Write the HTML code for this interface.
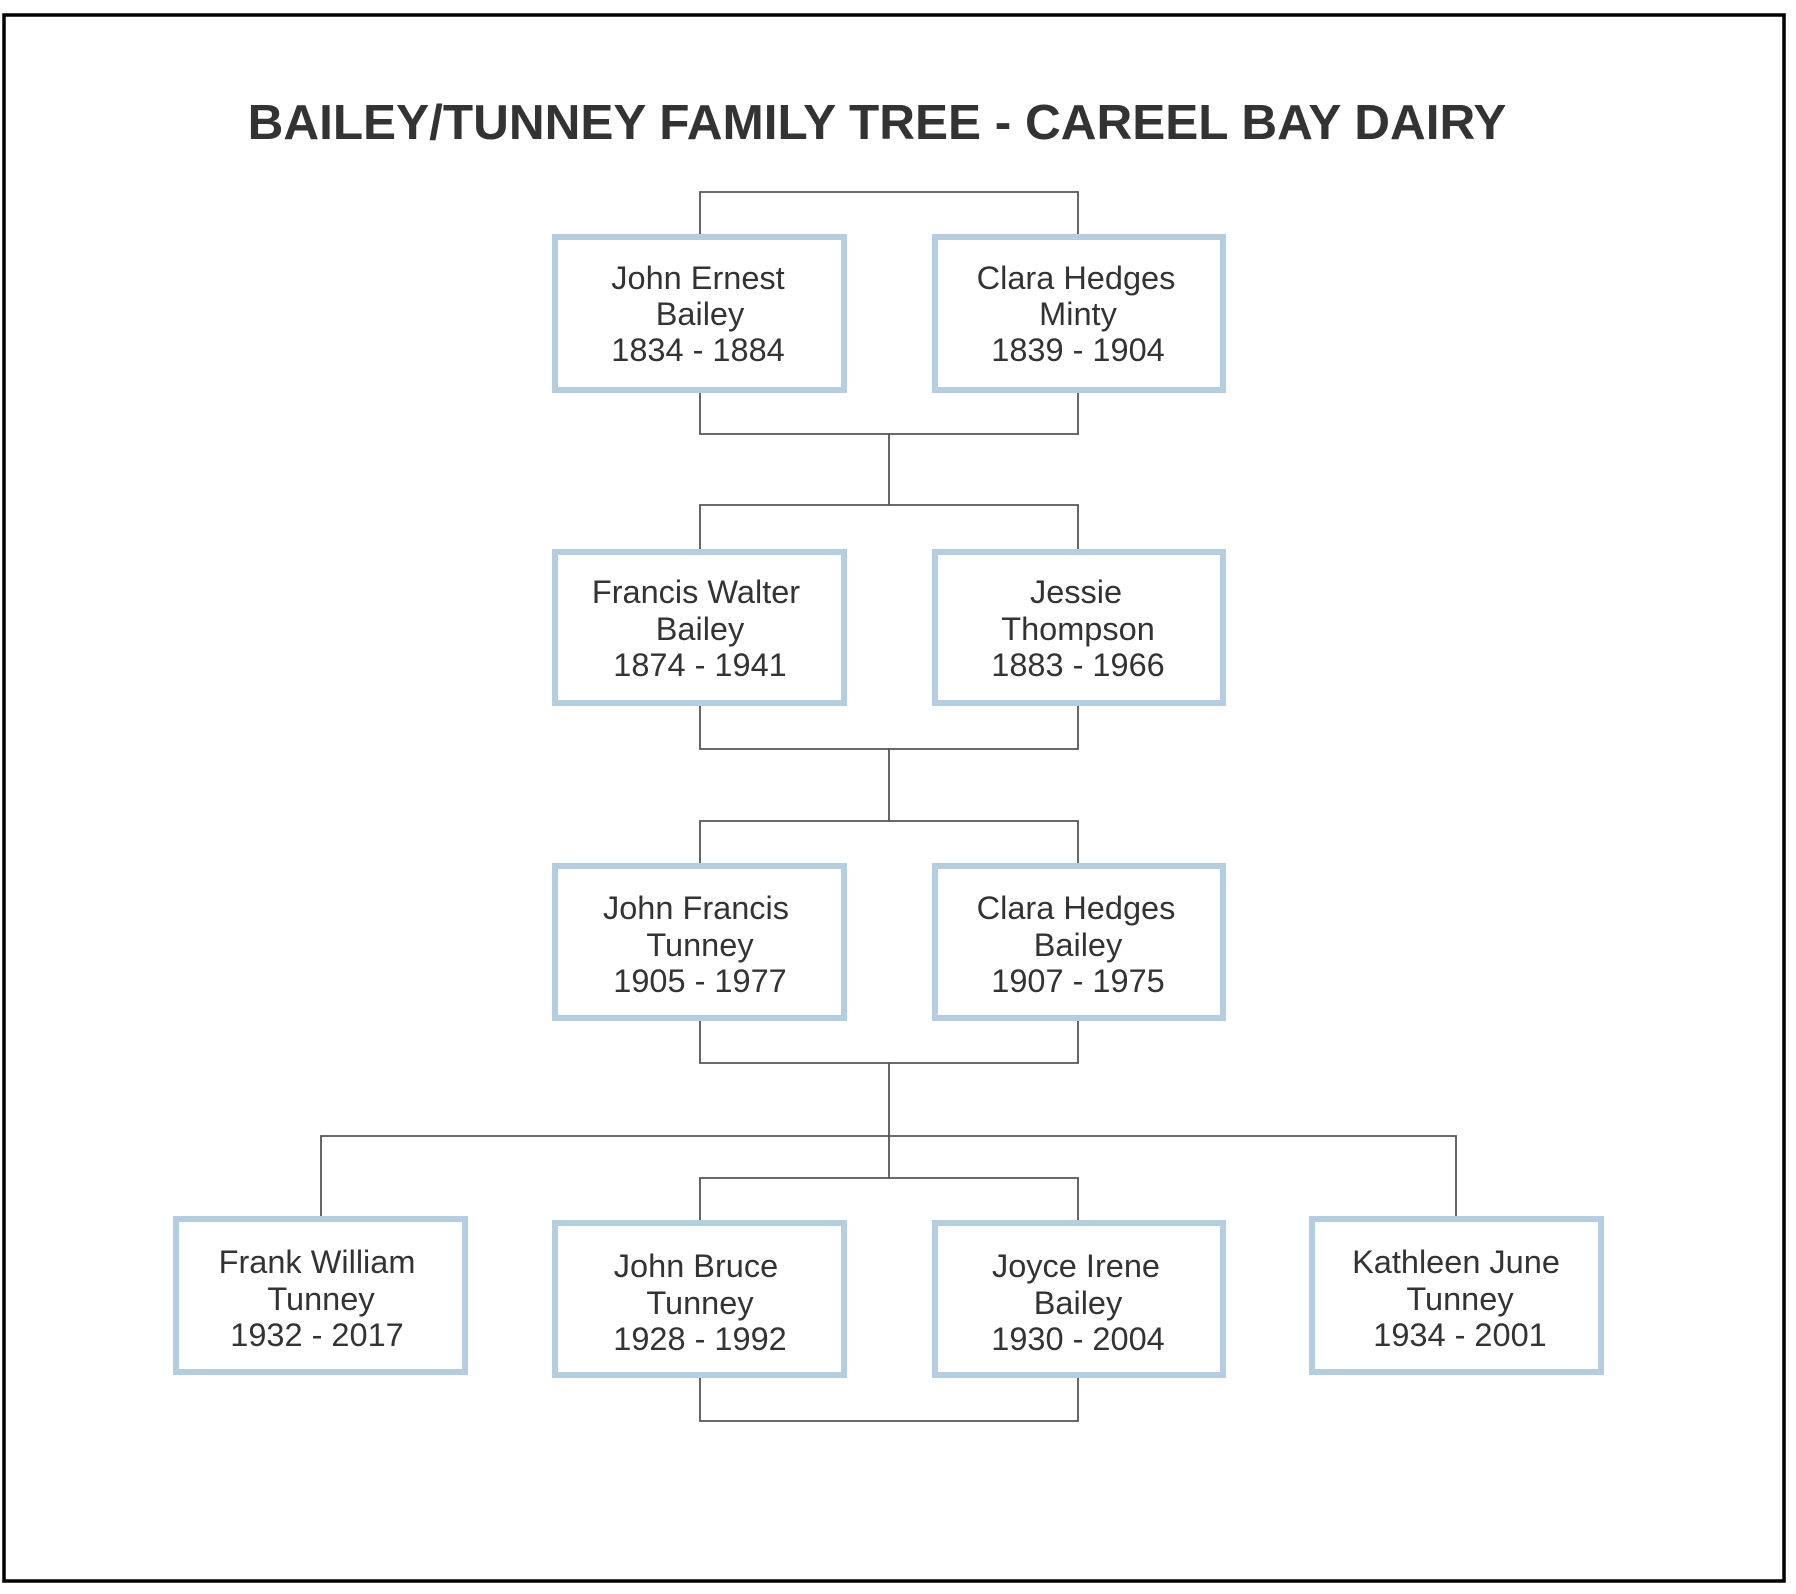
<!DOCTYPE html>
<html><head><style>html,body{margin:0;padding:0;background:#fff;}svg{display:block}</style></head>
<body>
<svg width="1796" height="1594" viewBox="0 0 1796 1594" xmlns="http://www.w3.org/2000/svg" font-family="Liberation Sans, Arial, sans-serif">
<rect x="4" y="15" width="1780" height="1566" fill="#fff" stroke="#000" stroke-width="3.5"/>
<text x="877" y="139" text-anchor="middle" font-size="49.5" font-weight="bold" fill="#333">BAILEY/TUNNEY FAMILY TREE - CAREEL BAY DAIRY</text>
<g transform="translate(-3,-1)">
<g fill="none" stroke="#555" stroke-width="1.8">
<path d="M703 235 V193 H1081 V235"/>
<path d="M703 394 V435 H1081 V394 M892 435 V506 M703 550 V506 H1081 V550"/>
<path d="M703 707 V750 H1081 V707 M892 750 V822 M703 864 V822 H1081 V864"/>
<path d="M703 1022 V1064 H1081 V1022 M892 1064 V1179 M324 1217 V1137 H1459 V1217 M703 1221 V1179 H1081 V1221"/>
<path d="M703 1379 V1422 H1081 V1379"/>
</g>
<g fill="#fff" stroke="#b3cde1" stroke-width="6">
<rect x="558" y="238" width="289" height="153"/>
<rect x="938" y="238" width="288" height="153"/>
<rect x="558" y="553" width="289" height="151"/>
<rect x="938" y="553" width="288" height="151"/>
<rect x="558" y="867" width="289" height="152"/>
<rect x="938" y="867" width="288" height="152"/>
<rect x="179" y="1220" width="289" height="153"/>
<rect x="558" y="1224" width="289" height="152"/>
<rect x="938" y="1224" width="288" height="152"/>
<rect x="1315" y="1220" width="289" height="153"/>
</g>
<g font-size="32.5" fill="#333" text-anchor="middle">
<text x="701" y="290">John Ernest</text><text x="703" y="326">Bailey</text><text x="701" y="362">1834 - 1884</text>
<text x="1079" y="290">Clara Hedges</text><text x="1081" y="326">Minty</text><text x="1081" y="362">1839 - 1904</text>
<text x="699" y="604">Francis Walter</text><text x="703" y="641">Bailey</text><text x="703" y="677">1874 - 1941</text>
<text x="1079" y="604">Jessie</text><text x="1081" y="641">Thompson</text><text x="1081" y="677">1883 - 1966</text>
<text x="699" y="920">John Francis</text><text x="703" y="957">Tunney</text><text x="703" y="993">1905 - 1977</text>
<text x="1079" y="920">Clara Hedges</text><text x="1081" y="957">Bailey</text><text x="1081" y="993">1907 - 1975</text>
<text x="320" y="1274">Frank William</text><text x="324" y="1311">Tunney</text><text x="320" y="1347">1932 - 2017</text>
<text x="699" y="1278">John Bruce</text><text x="703" y="1315">Tunney</text><text x="703" y="1351">1928 - 1992</text>
<text x="1079" y="1278">Joyce Irene</text><text x="1081" y="1315">Bailey</text><text x="1081" y="1351">1930 - 2004</text>
<text x="1459" y="1274">Kathleen June</text><text x="1463" y="1311">Tunney</text><text x="1463" y="1347">1934 - 2001</text>
</g>
</g>
</svg>
</body></html>
